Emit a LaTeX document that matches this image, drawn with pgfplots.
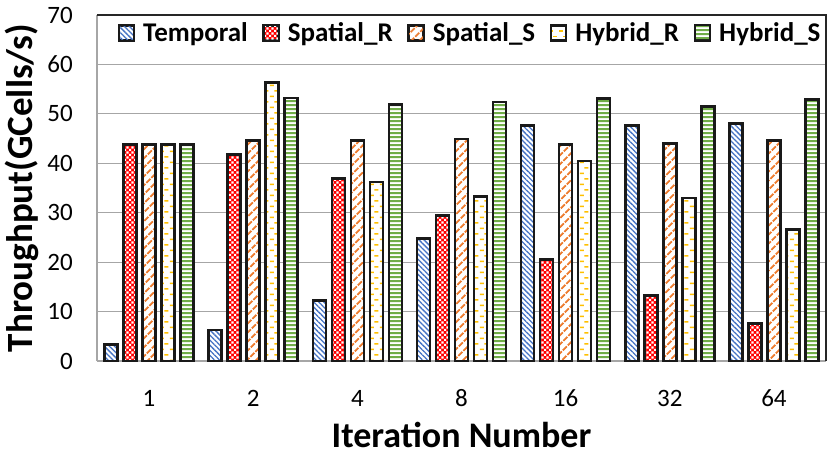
\documentclass[border=0pt]{standalone}
\usepackage{pgfplots}
\pgfplotsset{compat=1.18}
\usepackage{fontspec}
\setmainfont{Carlito}
\usetikzlibrary{patterns,patterns.meta}
\definecolor{cblue}{HTML}{4472C4}
\definecolor{cred}{HTML}{FF0000}
\definecolor{corange}{HTML}{ED7D31}
\definecolor{cyellow}{HTML}{FFC000}
\definecolor{cgreen}{HTML}{70AD47}
\definecolor{gridgray}{HTML}{A6A6A6}
\tikzdeclarepattern{
  name=redcheck,
  type=uncolored,
  bounding box={(0pt,0pt) and (5pt,5pt)},
  tile size={(5pt,5pt)},
  code={\fill (0pt,0pt) rectangle (2.2pt,2.2pt); \fill (2.5pt,2.5pt) rectangle (4.7pt,4.7pt);}
}
\tikzdeclarepattern{
  name=ydash,
  type=uncolored,
  bounding box={(0pt,0pt) and (10pt,11pt)},
  tile size={(10pt,11pt)},
  code={\fill (1pt,1pt) rectangle (5pt,2.5pt); \fill (5.5pt,6.5pt) rectangle (9.5pt,8pt);}
}
\pgfplotstableread{
x T SR SS HR HS
0 3.3 43.8 43.8 43.8 43.8
1 6.3 41.8 44.6 56.4 53.2
2 12.3 36.9 44.6 36.2 51.9
3 24.8 29.4 44.9 33.3 52.4
4 47.6 20.5 43.8 40.5 53.1
5 47.6 13.3 44.0 33.0 51.5
6 48.1 7.6 44.6 26.6 52.9
}\datatable
\begin{document}
\begin{tikzpicture}
\begin{axis}[
  scale only axis,
  width=729bp, height=346bp,
  ybar, bar width=13bp, ybar=6bp,
  xmin=-0.5, xmax=6.5,
  ymin=0, ymax=70,
  ytick={0,10,...,70},
  xtick=data,
  xticklabels={1,2,4,8,16,32,64},
  major tick length=0pt,
  ymajorgrids,
  major grid style={gridgray, line width=1.2bp},
  axis x line*=bottom, axis y line*=left,
  axis line style={gridgray, line width=1.2bp},
  /pgf/number format/assume math mode=true,
  tick label style={font=\fontsize{25bp}{30bp}\selectfont, inner sep=0pt},
  yticklabel style={anchor=east, xshift=-24bp},
  xticklabel style={anchor=center, yshift=-37bp},
  every axis y label/.style={at={(rel axis cs:0,0.5)}, rotate=90, anchor=center, yshift=75bp, font=\bfseries\fontsize{37bp}{40bp}\selectfont},
  every axis x label/.style={at={(rel axis cs:0.5,0)}, anchor=center, yshift=-74bp, font=\bfseries\fontsize{36bp}{40bp}\selectfont},
  ylabel={Throughput(GCells/s)},
  xlabel={Iteration Number},
  legend columns=5,
  legend style={at={(rel axis cs:0.512,0.948)}, anchor=center, draw=none, fill=none,
    font=\bfseries\fontsize{27bp}{30bp}\selectfont, column sep=0bp,
    /tikz/every even column/.append style={column sep=13bp}},
  legend image code/.code={\draw[#1, line width=1.8bp] (0bp,-7.5bp) rectangle (15bp,7.5bp); \path (21bp,0bp);},
  every axis plot/.append style={draw=black!90, line width=2.6bp, preaction={fill=white}},
  clip=false,
]
\addplot[pattern={Lines[angle=-45, distance=3.6pt, line width=1.3pt]}, pattern color=cblue] table[x=x,y=T]{\datatable};
\addplot[preaction={fill=cred}, pattern=redcheck, pattern color=white] table[x=x,y=SR]{\datatable};
\addplot[pattern={Lines[angle=45, distance=6.5pt, line width=2.2pt]}, pattern color=corange] table[x=x,y=SS]{\datatable};
\addplot[pattern=ydash, pattern color=cyellow] table[x=x,y=HR]{\datatable};
\addplot[pattern={Lines[angle=0, distance=4pt, line width=2pt]}, pattern color=cgreen] table[x=x,y=HS]{\datatable};
\legend{Temporal,Spatial\_R,Spatial\_S,Hybrid\_R,Hybrid\_S}
\draw[black!85, line width=1.6bp] (rel axis cs:0,1) -- (rel axis cs:1,1) -- (rel axis cs:1,0);
\coordinate (O) at (rel axis cs:0,0);
\end{axis}
\path (O) ++(-97bp,-99bp) rectangle ++(830bp,460bp);
\end{tikzpicture}
\end{document}
